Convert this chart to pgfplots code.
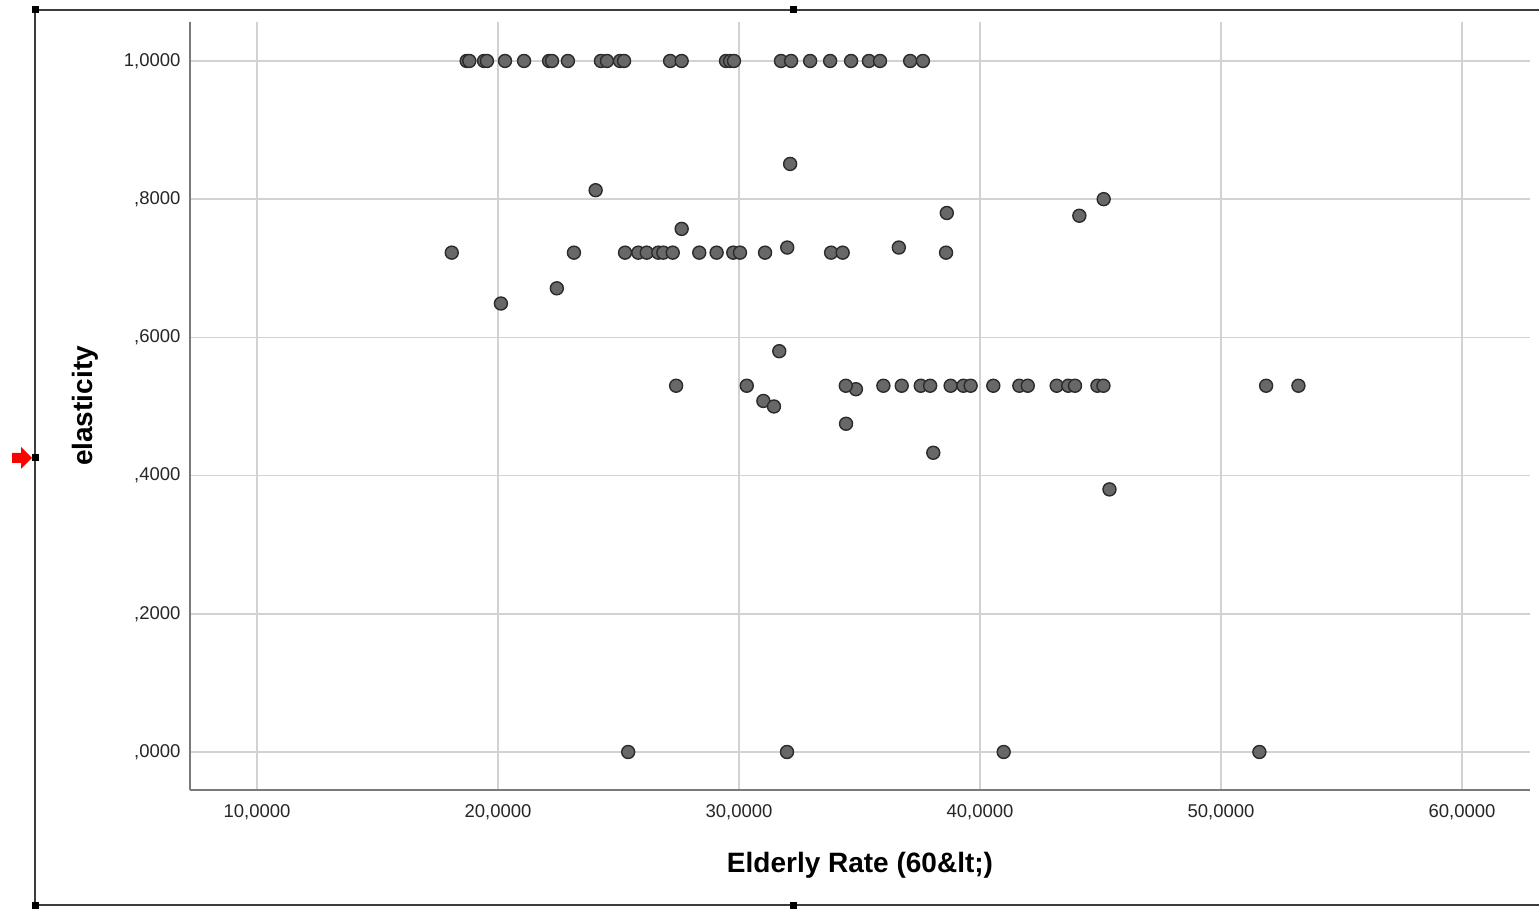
\documentclass[border=0pt]{standalone}
\usepackage{pgfplots}
\pgfplotsset{compat=1.18}
\usepackage{fontspec}
\setmainfont{Liberation Sans}
\definecolor{gridgray}{HTML}{D2D2D2}
\definecolor{axisgray}{HTML}{7A7A7A}
\definecolor{framegray}{HTML}{3C3C3C}
\definecolor{markfill}{HTML}{686868}
\definecolor{markdraw}{HTML}{2B2B2B}
\definecolor{ticktext}{HTML}{262626}
\pgfplotstableread{
x y
18.70 1.0
18.81 1.0
19.42 1.0
19.54 1.0
20.29 1.0
21.08 1.0
22.12 1.0
22.24 1.0
22.90 1.0
24.27 1.0
24.52 1.0
25.06 1.0
25.23 1.0
27.14 1.0
27.62 1.0
29.46 1.0
29.63 1.0
29.79 1.0
31.74 1.0
32.16 1.0
32.95 1.0
33.78 1.0
34.65 1.0
35.39 1.0
35.85 1.0
37.10 1.0
37.63 1.0
18.08 0.7226
23.15 0.7226
25.27 0.7226
25.82 0.7226
26.17 0.7226
26.65 0.7226
26.86 0.7226
27.25 0.7226
28.35 0.7226
29.07 0.7226
29.76 0.7226
30.04 0.7226
31.08 0.7226
33.82 0.7226
34.30 0.7226
38.59 0.7226
20.12 0.649
22.44 0.671
24.05 0.813
27.62 0.757
32.00 0.730
32.12 0.851
36.63 0.730
38.62 0.780
44.12 0.776
45.13 0.800
31.67 0.580
31.01 0.508
31.45 0.500
34.85 0.525
34.44 0.475
38.06 0.433
45.37 0.380
27.39 0.530
30.32 0.530
34.43 0.530
35.99 0.530
36.75 0.530
37.54 0.530
37.93 0.530
38.78 0.530
39.31 0.530
39.61 0.530
40.55 0.530
41.63 0.530
41.98 0.530
43.18 0.530
43.66 0.530
43.94 0.530
44.87 0.530
45.12 0.530
51.87 0.530
53.21 0.530
25.40 0.0
31.99 0.0
40.98 0.0
51.59 0.0
}\pointsdata
\begin{document}
\begin{tikzpicture}[x=1pt,y=1pt]
\path[use as bounding box] (0,0) rectangle (1539,908);
% selection frame
\draw[line width=2pt, color=framegray] (1539,898) -- (35,898) -- (35,3) -- (1539,3);
\foreach \px/\py in {35/898, 793/898, 35/450, 35/3, 793/3} {
  \fill[black] (\px-3.5,\py-3.5) rectangle ++(7,7);
}
\fill[red] (12,445) -- (21,445) -- (21,439) -- (32,450) -- (21,461) -- (21,455) -- (12,455) -- cycle;
\begin{axis}[
  at={(190pt,118pt)}, anchor=south west,
  scale only axis, width=1340pt, height=768pt,
  xmin=7.22, xmax=62.82, ymin=-0.055, ymax=1.0564,
  axis lines=left,
  axis line style={-, line width=2pt, color=axisgray},
  major tick length=0pt,
  grid=major,
  major grid style={line width=1.6pt, color=gridgray},
  xtick={10,20,30,40,50,60},
  xticklabels={{10,0000},{20,0000},{30,0000},{40,0000},{50,0000},{60,0000}},
  ytick={0,0.2,0.4,0.6,0.8,1.0},
  yticklabels={{,0000},{,2000},{,4000},{,6000},{,8000},{1,0000}},
  tick label style={font=\fontsize{18.5}{20}\selectfont, text=ticktext},
  yticklabel style={anchor=east, xshift=-6pt},
  xticklabel style={anchor=north, yshift=-11pt},
  xlabel={Elderly Rate (60\&lt;)},
  ylabel={elasticity},
  label style={font=\fontsize{28}{30}\selectfont\bfseries, text=black},
  xlabel style={at={(axis description cs:0.5,0)}, anchor=center, yshift=-75pt},
  ylabel style={at={(axis description cs:0,0.5)}, anchor=center, yshift=105pt},
  clip=false,
]
\addplot[only marks, mark=*, mark size=6.5pt,
  mark options={fill=markfill, draw=markdraw, line width=1.4pt}]
  table[x=x, y=y] {\pointsdata};
\end{axis}
\end{tikzpicture}
\end{document}
